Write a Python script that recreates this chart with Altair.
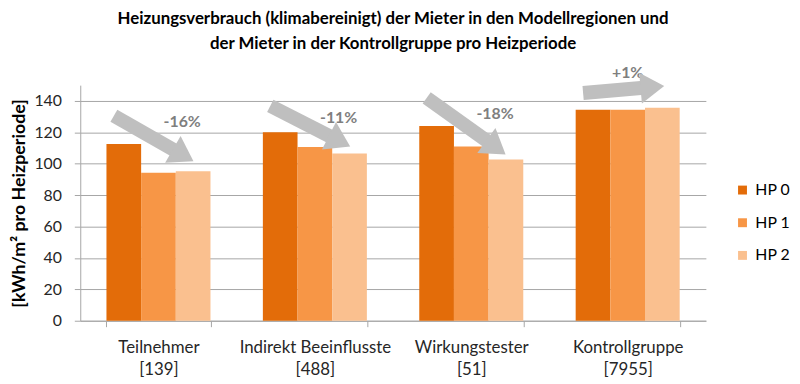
import altair as alt
import pandas as pd

# ---- data ----
groups = ["Teilnehmer", "Indirekt Beeinflusste", "Wirkungstester", "Kontrollgruppe"]
counts = [139, 488, 51, 7955]
periods = ["HP 0", "HP 1", "HP 2"]
hp0 = [112.5, 120.0, 124.0, 134.3]
hp1 = [94.2, 110.6, 111.0, 134.3]
hp2 = [95.2, 106.5, 102.7, 135.6]
colors = ["#E36C09", "#F79646", "#FAC08F"]

# annotation arrows (levels in kWh/m²)
change_labels = ["-16%", "-11%", "-18%", "+1%"]
arrow_start = [130.5, 136.8, 141.9, 145.0]
arrow_end = [105.3, 114.3, 110.3, 148.8]
arrow_angle = [30, 27, 36, 355]
label_level = [126.7, 129.3, 131.8, 157.5]

title_lines = [
    "Heizungsverbrauch (klimabereinigt) der Mieter in den Modellregionen und",
    "der Mieter in der Kontrollgruppe pro Heizperiode",
]
y_title = "[kWh/m² pro Heizperiode]"
y_ticks = [0, 20, 40, 60, 80, 100, 120, 140]

FONT = "Lato"

cats = [f"{g}\n[{n}]" for g, n in zip(groups, counts)]

bar_rows = []
for c, a, b, d in zip(cats, hp0, hp1, hp2):
    for p, v in zip(periods, [a, b, d]):
        bar_rows.append({"group": c, "period": p, "value": v})
bars_df = pd.DataFrame(bar_rows)

arrow_rows = []
for i, c in enumerate(cats):
    arrow_rows.append({"group": c, "period": "HP 0", "value": arrow_start[i], "arrow": i})
    arrow_rows.append({"group": c, "period": "HP 2", "value": arrow_end[i], "arrow": i})
arrows_df = pd.DataFrame(arrow_rows)

heads_df = pd.DataFrame({"group": cats, "period": ["HP 2"] * 4, "value": arrow_end,
                         "angle": arrow_angle})
labels_df = pd.DataFrame({"group": cats, "period": ["HP 1"] * 4, "value": label_level,
                          "text": change_labels, "up": [False, False, False, True]})

x_scale = alt.Scale(paddingInner=0.335, paddingOuter=0.1675)
x_axis = alt.Axis(labelExpr="isValid(datum.value) ? split(datum.value, '\\n') : ''",
                  labelAngle=0, grid=False, tickBand="extent", tickSize=6,
                  labelPadding=13, labelLineHeight=22, labelFontSize=17)
x_enc = alt.X("group:N", sort=cats, title=None, scale=x_scale, axis=x_axis)
xo_enc = alt.XOffset("period:N", sort=periods, scale=alt.Scale(paddingInner=0, paddingOuter=0))
# arrows run from just left of the HP 0 bar to the HP 2 bar
xo_arrow = alt.XOffset("period:N", sort=periods,
                       scale=alt.Scale(domain=periods, range=[7.5, 77.5], padding=0))
y_enc = alt.Y(
    "value:Q", title=y_title,
    scale=alt.Scale(domain=[0, 150], nice=False, zero=True),
    axis=alt.Axis(values=y_ticks, grid=True, tickSize=6, labelPadding=13,
                  titleFontWeight="bold", titleFontSize=18, titlePadding=5,
                  titleColor="#000000", labelFontSize=16),
)

bars = alt.Chart(bars_df).mark_bar().encode(
    x=x_enc, xOffset=xo_enc, y=y_enc,
    color=alt.Color("period:N", sort=periods,
                    scale=alt.Scale(domain=periods, range=colors),
                    legend=alt.Legend(title=None, orient="none", legendX=661, legendY=98,
                                      symbolType="square", symbolSize=81,
                                      symbolStrokeWidth=0, labelFontSize=16,
                                      labelFont=FONT, labelColor="#000000",
                                      rowPadding=17, labelOffset=5)),
)

lines = alt.Chart(arrows_df).mark_line(color="#BFBFBF", strokeWidth=14, strokeCap="butt").encode(
    x=x_enc, xOffset=xo_arrow, y=y_enc, detail="arrow:N",
)

heads = alt.Chart(heads_df).mark_point(
    shape="M-1,-1.3L1,0L-1,1.3Z", size=576, filled=True, color="#BFBFBF", opacity=1,
).encode(x=x_enc, xOffset=xo_arrow, y=y_enc, angle=alt.Angle("angle:Q", scale=None))

arrows = alt.layer(lines, heads)

lab_down = alt.Chart(labels_df).transform_filter("!datum.up").mark_text(
    font=FONT, fontSize=16, fontWeight="bold", color="#7F7F7F", dx=24,
).encode(x=x_enc, xOffset=xo_enc, y=y_enc, text="text:N")

lab_up = alt.Chart(labels_df).transform_filter("datum.up").mark_text(
    font=FONT, fontSize=16, fontWeight="bold", color="#7F7F7F", dx=0,
).encode(x=x_enc, xOffset=xo_enc, y=y_enc, text="text:N")

chart = alt.layer(bars, lab_down, lab_up, arrows).resolve_scale(
    xOffset="independent"
).properties(
    width=632, height=238,
    autosize=alt.AutoSizeParams(type="none"),
    padding={"left": 73, "top": 76, "right": 87, "bottom": 62},
    title=alt.TitleParams(text=title_lines, anchor="middle", font=FONT, fontSize=17,
                          fontWeight="bold", color="#000000", lineHeight=26, offset=6),
).configure_view(stroke=None).configure_axis(
    labelFont=FONT, titleFont=FONT, labelColor="#262626",
    domainColor="#A6A6A6", tickColor="#A6A6A6", gridColor="#A6A6A6",
)

chart.save("out.html", embed_options={"renderer": "svg", "actions": False})
